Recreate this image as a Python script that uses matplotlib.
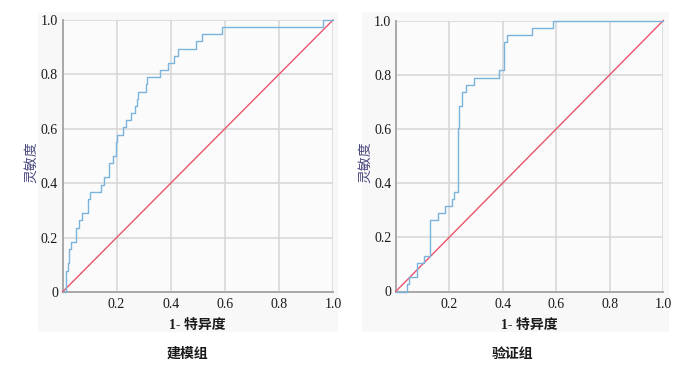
import matplotlib
matplotlib.use("Agg")
import matplotlib.pyplot as plt
from matplotlib.patches import Rectangle

# ROC step corners: (1-specificity, sensitivity)
train_fpr = [0, 0.012, 0.020, 0.025, 0.032, 0.050, 0.062, 0.071, 0.096, 0.100,
             0.142, 0.154, 0.172, 0.185, 0.199, 0.203, 0.225, 0.234, 0.253, 0.268,
             0.274, 0.280, 0.308, 0.314, 0.360, 0.391, 0.412, 0.426, 0.495, 0.517,
             0.591, 0.963, 1.0]
train_tpr = [0, 0.079, 0.105, 0.158, 0.184, 0.237, 0.263, 0.289, 0.342, 0.368,
             0.395, 0.421, 0.474, 0.500, 0.553, 0.579, 0.605, 0.632, 0.658, 0.684,
             0.711, 0.737, 0.763, 0.789, 0.816, 0.842, 0.868, 0.895, 0.921, 0.947,
             0.974, 1.0, 1.0]
valid_fpr = [0, 0.041, 0.050, 0.081, 0.107, 0.128, 0.159, 0.184, 0.212, 0.218,
             0.234, 0.237, 0.249, 0.262, 0.294, 0.386, 0.405, 0.417, 0.511, 0.589, 1.0]
valid_tpr = [0, 0.026, 0.053, 0.105, 0.132, 0.263, 0.289, 0.316, 0.342, 0.368,
             0.605, 0.684, 0.737, 0.763, 0.789, 0.816, 0.921, 0.947, 0.974, 1.0, 1.0]
ref_line = [0, 1]
ticks_y = [0, 0.2, 0.4, 0.6, 0.8, 1.0]
ticks_x = [0.2, 0.4, 0.6, 0.8, 1.0]
ylab_y = ["0", "0.2", "0.4", "0.6", "0.8", "1.0"]
ylab_x = ["0.2", "0.4", "0.6", "0.8", "1.0"]
titles = ["建模组", "验证组"]

BLUE, RED = "#7ab4dc", "#e8546e"
NUM = ["Liberation Serif", "DejaVu Serif"]
CJK = ["Liberation Serif", "Noto Sans CJK SC"]

W, H = 698, 367
fig = plt.figure(figsize=(W / 100, H / 100), dpi=100)
fig.patch.set_facecolor("white")

def px(x0, y0, w, h):
    return [x0 / W, 1 - (y0 + h) / H, w / W, h / H]

panels = [
    dict(bg=(38, 12, 300, 320), ax=(62.5, 20, 270.5, 272), fpr=train_fpr, tpr=train_tpr,
         ylab_x=32, title_x=187),
    dict(bg=(362, 12, 307, 320), ax=(395.7, 20.5, 267.6, 271), fpr=valid_fpr, tpr=valid_tpr,
         ylab_x=366, title_x=513),
]

for p, title in zip(panels, titles):
    bx, by, bw, bh = p["bg"]
    fig.patches.append(Rectangle((bx / W, 1 - (by + bh) / H), bw / W, bh / H,
                                 transform=fig.transFigure, facecolor="#f8f8f8",
                                 edgecolor="none", zorder=-5))
    ax = fig.add_axes(px(*p["ax"]))
    ax.set_zorder(2)
    ax.set_facecolor("#fbfbfb")
    ax.set_xlim(0, 1); ax.set_ylim(0, 1)
    ax.set_xticks(ticks_x); ax.set_yticks(ticks_y)
    ax.set_xticklabels(ylab_x, family=NUM, fontsize=10)
    ax.set_yticklabels(ylab_y, family=NUM, fontsize=10)
    ax.tick_params(length=0, pad=3.2, colors="#1a1a1a")
    ax.tick_params(axis="x", pad=4.5)
    ax.grid(True, color="#d6d6d6", lw=1.1)
    ax.set_axisbelow(True)
    for s in ["top", "right"]:
        ax.spines[s].set_visible(False)
    for s in ["left", "bottom"]:
        ax.spines[s].set_color("#a8a8a8"); ax.spines[s].set_linewidth(1.4)
    ax.plot(ref_line, ref_line, color=RED, lw=1.0, clip_on=False, zorder=3)
    ax.plot(p["fpr"], p["tpr"], drawstyle="steps-post", color=BLUE, lw=1.0,
            clip_on=False, zorder=4)
    ax_x0, ax_y0, ax_w, ax_h = p["ax"]
    fig.text((ax_x0 + ax_w / 2) / W, 1 - 325 / H, "1- 特异度", family=CJK,
             fontsize=10, ha="center", va="center", color="#1a1a1a",
             fontweight="bold", zorder=3)
    fig.text(p["ylab_x"] / W, 1 - 162 / H, "灵敏度", family=CJK, fontsize=10,
             rotation=90, ha="center", va="center", color="#4a4a80", zorder=3)
    fig.text(p["title_x"] / W, 1 - 354 / H, title, family=CJK, fontsize=10,
             ha="center", va="center", color="#1a1a1a", fontweight="bold", zorder=3)

fig.savefig("out.png", dpi=100)
